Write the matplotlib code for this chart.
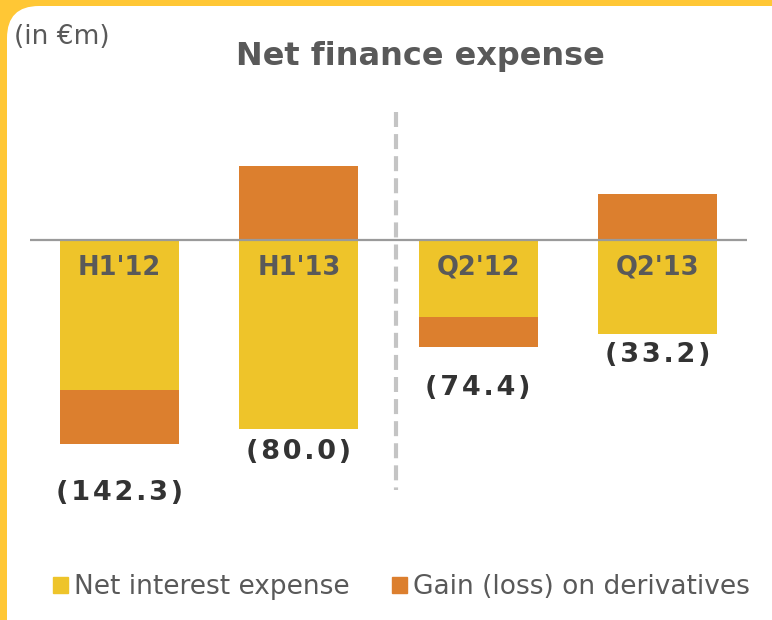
import numpy as np
import matplotlib
matplotlib.use('Agg')
import matplotlib.pyplot as plt
from matplotlib.patches import FancyBboxPatch, Patch

# net finance expense, in €m
periods = ["H1'12", "H1'13", "Q2'12", "Q2'13"]
net_interest = [-104.5, -131.5, -54.0, -65.5]
derivatives = [-37.8, 51.5, -20.4, 32.3]

YELLOW = '#EEC42A'
ORANGE = '#DC7F2E'
FRAME = '#FFC735'
GREY_TXT = '#595959'

interest = np.array(net_interest)
deriv = np.array(derivatives)
total = interest + deriv

fig = plt.figure(figsize=(7.72, 6.2), dpi=100, facecolor=FRAME)

# white rounded panel on the yellow frame
panel = FancyBboxPatch((7, -40), 800, 654, boxstyle='round,pad=0,rounding_size=32',
                       facecolor='white', edgecolor='none', transform=None, zorder=-5)
fig.add_artist(panel)

ax = fig.add_axes([30 / 772, 80 / 620, 717 / 772, 440 / 620])
ax.set_facecolor('none')
x = np.arange(len(periods))
w = 0.664

ax.bar(x, interest, w, color=YELLOW, label='Net interest expense', zorder=2)
bottom = np.where(deriv < 0, interest, 0)
ax.bar(x, deriv, w, bottom=bottom, color=ORANGE, label='Gain (loss) on derivatives', zorder=2)

ax.axhline(0, color='#9A9A9A', lw=1.6, zorder=3)
ax.plot([1.542, 1.542], [89, -174], color='#C4C4C4', lw=3, ls=(0, (3.6, 1.7)), zorder=1)

ax.set_xlim(-0.5, 3.5)
ax.set_ylim(-209, 97.5)
ax.axis('off')

for i, p in enumerate(periods):
    ax.text(x[i], -19.5, p, ha='center', va='center', fontsize=18.5,
            fontweight='bold', color=GREY_TXT, zorder=4)

# totals under each stack, slightly tracked out
pads = [35, 17, 30, 15]
for i in range(len(periods)):
    low = min(interest[i], total[i])
    s = '({:.1f})'.format(abs(total[i]))
    ax.annotate('\u200a'.join(s), (x[i], low), xytext=(0, -pads[i]),
                textcoords='offset points', ha='center', va='center',
                fontsize=19.5, fontweight='bold', color='#333333')

fig.text(420 / 772, 1 - 57 / 620, 'Net finance expense', ha='center', va='center',
         fontsize=23, fontweight='bold', color=GREY_TXT)
fig.text(14 / 772, 1 - 37 / 620, '(in €m)', ha='left', va='center',
         fontsize=19, color=GREY_TXT)

handles = [Patch(color=YELLOW), Patch(color=ORANGE)]
fig.legend(handles, ['Net interest expense', 'Gain (loss) on derivatives'],
           loc='center left', bbox_to_anchor=(40 / 772, 1 - 587 / 620), ncol=2,
           frameon=False, fontsize=19, handlelength=0.55, handleheight=0.55,
           handletextpad=0.25, columnspacing=1.6, labelcolor=GREY_TXT, borderpad=0)

fig.savefig('out.png', dpi=100, facecolor=FRAME)
